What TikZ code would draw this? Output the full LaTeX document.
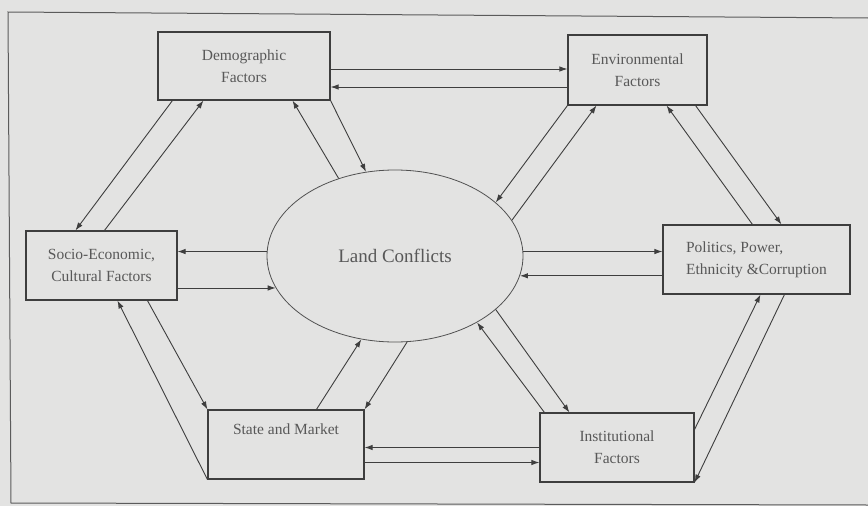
\documentclass[tikz,border=0pt]{standalone}
\usepackage{fontspec}
\setmainfont{Liberation Serif}
\usetikzlibrary{arrows.meta,shapes.geometric}

\definecolor{paper}{RGB}{227,227,226}
\definecolor{ink}{RGB}{62,62,62}
\definecolor{letter}{RGB}{88,88,88}

\tikzset{
  factor/.style={draw=ink, line width=1.1pt, inner sep=2pt, minimum width=#1, minimum height=69pt,
    align=center, text=letter, font=\fontsize{15.5}{22}\selectfont},
  link/.style={draw=ink, line width=0.9pt, -{Latex[length=8pt,width=5.5pt]}},
}

\begin{document}
\begin{tikzpicture}[x=1pt, y=-1pt]
        % \draw[help lines, gray!50, very thin] (0,0) grid[step=50] (868,506);
        \fill[paper] (0,0) rectangle (868,506);
        \useasboundingbox (0,0) rectangle (868,506);
        \draw[ink!85, line width=1pt] (868,18) -- (8,12) -- (11,503) -- (868,505);

        \node[draw=ink!90, line width=0.8pt, ellipse, minimum width=256pt, minimum height=172pt, inner sep=0pt,
          text=letter, font=\fontsize{19}{23}\selectfont] (land) at (395,256) {Land Conflicts};

        \node[factor=172pt, minimum height=68pt] (demo) at (244,66) {Demographic\\Factors};
        \node[factor=139pt, minimum height=70pt] (env) at (637.5,70) {Environmental\\Factors};
        \node[factor=151pt] (socio) at (101.5,265.5) {Socio-Economic,\\Cultural Factors};
        \node[factor=187pt, align=left] (pol) at (756.5,259.5) {Politics, Power,\\Ethnicity \&Corruption};
        \node[factor=156pt, text depth=30pt] (state) at (286,444.5) {State and Market};
        \node[factor=154pt] (inst) at (617,447.5) {Institutional\\Factors};

        % outer ring
        \draw[link] ([yshift=-3pt]demo.east) -- ([yshift=1pt]env.west);
        \draw[link] ([yshift=-17pt]env.west) -- ([yshift=-21pt]demo.east);
        \draw[link] ([xshift=15pt]demo.south west) -- ([xshift=50pt]socio.north west);
        \draw[link] ([xshift=79pt]socio.north west) -- ([xshift=46pt]demo.south west);
        \draw[link] ([xshift=90pt]pol.north west) -- ([xshift=-41pt]env.south east);
        \draw[link] ([xshift=-12pt]env.south east) -- ([xshift=119pt]pol.north west);
        \draw[link] ([xshift=122pt]socio.south west) -- (state.north west);
        \draw[link] (state.south west) -- ([xshift=92pt]socio.south west);
        \draw[link] (inst.west) -- (inst.west -| state.east);
        \draw[link] ([yshift=-18pt]state.east) -- ([yshift=-15pt]inst.west);
        \draw[link] ([yshift=-17pt]inst.north east) -- ([xshift=98pt]pol.south west);
        \draw[link] ([xshift=122pt]pol.south west) -- (inst.south east);

        % spokes
        \draw[link] (land.126) -- ([xshift=-38pt]demo.south east);
        \draw[link] (demo.south east) -- (land.109);
        \draw[link] (env.south west) -- (land.28);
        \draw[link] (land.17) -- ([xshift=29pt]env.south west);
        \draw[link] (land.2) -- (land.2 -| pol.west);
        \draw[link] (land.351 -| pol.west) -- (land.351);
        \draw[link] (land.178) -- (land.178 -| socio.east);
        \draw[link] (land.195 -| socio.east) -- (land.195);
        \draw[link] ([xshift=109pt]state.north west) -- (land.248);
        \draw[link] (land.278) -- (state.north east);
        \draw[link] (land.332) -- ([xshift=30pt]inst.north west);
        \draw[link] ([xshift=5pt]inst.north west) -- (land.321);
\end{tikzpicture}
\end{document}
